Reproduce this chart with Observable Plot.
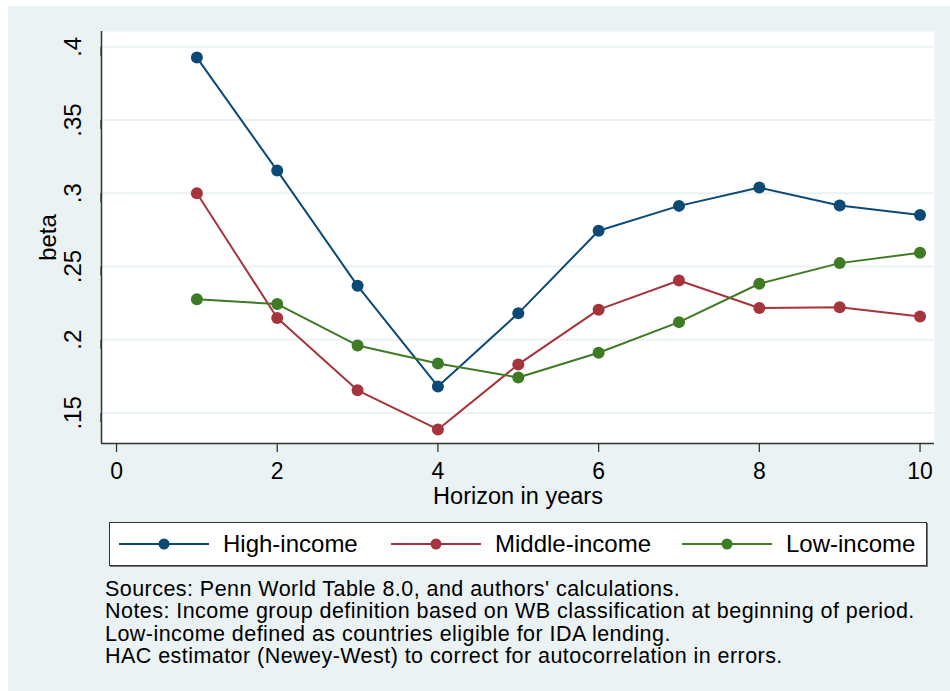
<!DOCTYPE html>
<html>
<head>
<meta charset="utf-8">
<script src="https://cdn.jsdelivr.net/npm/d3@7"></script>
<script src="https://cdn.jsdelivr.net/npm/@observablehq/plot@0.6"></script>
<style>
  html, body { margin: 0; padding: 0; background: #ffffff; }
  body { width: 950px; height: 691px; position: relative; overflow: hidden;
         font-family: "Liberation Sans", Arial, Helvetica, sans-serif; }
  #bg { position: absolute; left: 8px; top: 6px; width: 942px; height: 685px; background: #eaf2f3; }
  #chart { position: absolute; left: 8px; top: 6px; }
  #legend { position: absolute; left: 109px; top: 522px; width: 816px; height: 42px;
            background: #fff; border: 1px solid #333; box-shadow: 1px 1px 0 #777; }
  .item { position: absolute; top: 0; height: 42px; display: flex; align-items: center; }
  .item span { font-size: 24px; color: #000; margin-left: 14px; white-space: nowrap; }
  #notes { position: absolute; left: 105px; top: 578px; font-size: 21.5px; line-height: 22.3px;
           letter-spacing: 0.45px; color: #000; }
</style>
</head>
<body>
<div id="bg"></div>
<div id="chart"></div>
<div id="legend"></div>
<div id="notes"></div>
<script>
// ---- data ----
const horizon = [1, 2, 3, 4, 5, 6, 7, 8, 9, 10];
const highIncome   = [0.3927, 0.3155, 0.2368, 0.1681, 0.2180, 0.2744, 0.2914, 0.3039, 0.2916, 0.2852];
const middleIncome = [0.3000, 0.2148, 0.1654, 0.1387, 0.1831, 0.2205, 0.2404, 0.2216, 0.2221, 0.2159];
const lowIncome    = [0.2277, 0.2243, 0.1961, 0.1838, 0.1742, 0.1911, 0.2120, 0.2382, 0.2523, 0.2594];
const groups = ["High-income", "Middle-income", "Low-income"];
const groupColors = ["#0b4a76", "#a6343c", "#3e7b24"];
const xTicks = [0, 2, 4, 6, 8, 10];
const yTicks = [0.15, 0.2, 0.25, 0.3, 0.35, 0.4];
const xLabel = "Horizon in years";
const yLabel = "beta";
const notes = [
  "Sources: Penn World Table 8.0, and authors' calculations.",
  "Notes: Income group definition based on WB classification at beginning of period.",
  "Low-income defined as countries eligible for IDA lending.",
  "HAC estimator (Newey-West) to correct for autocorrelation in errors."
];

const series = [highIncome, middleIncome, lowIncome];
const rows = [];
groups.forEach((g, gi) => horizon.forEach((h, i) => rows.push({group: g, h, beta: series[gi][i]})));

const xDomain = [-0.187, 10.18];
const yDomain = [0.1291, 0.4105];
const fmt = d => String(+d.toFixed(2)).replace(/^0/, "");

const chart = Plot.plot({
  width: 942,
  height: 510,
  marginLeft: 93,
  marginRight: 16,
  marginTop: 25,
  marginBottom: 73,
  style: {background: "transparent", fontFamily: "'Liberation Sans', Arial, sans-serif", color: "#000", overflow: "visible"},
  x: {domain: xDomain},
  y: {domain: yDomain},
  color: {domain: groups, range: groupColors},
  marks: [
    Plot.frame({fill: "white", stroke: "none"}),
    Plot.gridY(yTicks, {stroke: "#eaf2f3", strokeOpacity: 1, strokeWidth: 2}),
    Plot.ruleX([xDomain[0]], {stroke: "#333", strokeWidth: 1.5}),
    Plot.ruleY([yDomain[0]], {stroke: "#333", strokeWidth: 1.5}),
    Plot.axisY(yTicks, {
      tickSize: 9, tickPadding: 19.5, tickFormat: fmt, rotate: -90, textAnchor: "middle",
      fontSize: 24, stroke: "#333", strokeWidth: 1.3,
      label: yLabel, labelAnchor: "center", labelOffset: 63, labelArrow: "none"
    }),
    Plot.axisX(xTicks, {
      tickSize: 9, tickPadding: 10.5, tickFormat: d => String(d),
      fontSize: 23, stroke: "#333", strokeWidth: 1.3, label: null
    }),
    Plot.text([xLabel], {text: d => d, frameAnchor: "bottom", lineAnchor: "bottom", dy: 60, fontSize: 23.5, fill: "#000"}),
    Plot.line(rows, {x: "h", y: "beta", stroke: "group", strokeWidth: 2}),
    Plot.dot(rows, {x: "h", y: "beta", fill: "group", r: 6})
  ]
});
document.getElementById("chart").appendChild(chart);

// ---- legend ----
const legend = document.getElementById("legend");
const itemLeft = [9, 281, 572];
groups.forEach((g, i) => {
  const div = document.createElement("div");
  div.className = "item";
  div.style.left = itemLeft[i] + "px";
  div.innerHTML = `<svg width="90" height="14"><line x1="0" x2="90" y1="7" y2="7" stroke="${groupColors[i]}" stroke-width="2"/><circle cx="45" cy="7" r="5.5" fill="${groupColors[i]}"/></svg><span>${g}</span>`;
  legend.appendChild(div);
});

// ---- notes ----
const notesDiv = document.getElementById("notes");
notes.forEach(t => {
  const d = document.createElement("div");
  d.textContent = t;
  notesDiv.appendChild(d);
});
</script>
</body>
</html>
